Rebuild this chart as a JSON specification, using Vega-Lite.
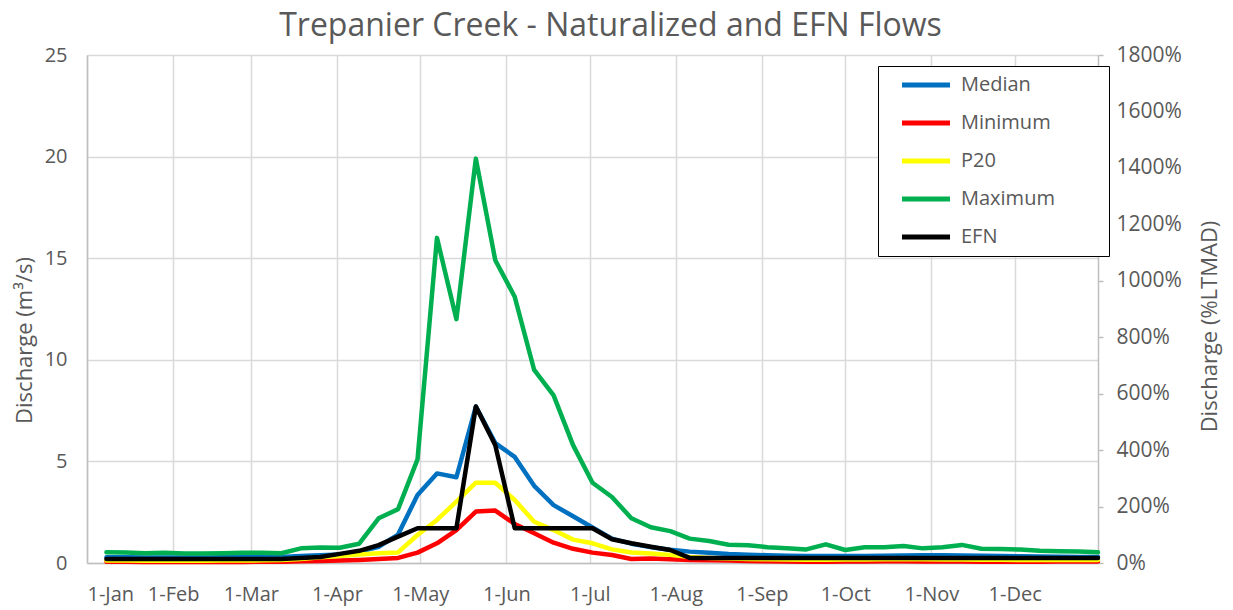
{
  "$schema": "https://vega.github.io/schema/vega-lite/v6.json",
  "width": 1011,
  "height": 508,
  "autosize": {"type": "none"},
  "padding": {"left": 87, "top": 55, "right": 135, "bottom": 47},
  "background": "white",
  "config": {"font": "Open Sans", "view": {"stroke": null}},
  "title": {"text": "Trepanier Creek - Naturalized and EFN Flows", "fontSize": 32, "font": "Open Sans", "fontWeight": "normal", "color": "#595959", "anchor": "middle", "dx": 18, "offset": 1},
  "data": {"values": [
    {"date": "2021-01-08", "Median": 0.28, "Minimum": 0.06, "P20": 0.12, "Maximum": 0.53, "EFN": 0.2},
    {"date": "2021-01-15", "Median": 0.28, "Minimum": 0.06, "P20": 0.12, "Maximum": 0.52, "EFN": 0.2},
    {"date": "2021-01-22", "Median": 0.27, "Minimum": 0.05, "P20": 0.11, "Maximum": 0.48, "EFN": 0.2},
    {"date": "2021-01-29", "Median": 0.27, "Minimum": 0.05, "P20": 0.11, "Maximum": 0.5, "EFN": 0.2},
    {"date": "2021-02-05", "Median": 0.27, "Minimum": 0.05, "P20": 0.11, "Maximum": 0.47, "EFN": 0.2},
    {"date": "2021-02-12", "Median": 0.27, "Minimum": 0.05, "P20": 0.11, "Maximum": 0.47, "EFN": 0.2},
    {"date": "2021-02-19", "Median": 0.28, "Minimum": 0.05, "P20": 0.12, "Maximum": 0.48, "EFN": 0.2},
    {"date": "2021-02-26", "Median": 0.28, "Minimum": 0.05, "P20": 0.12, "Maximum": 0.5, "EFN": 0.2},
    {"date": "2021-03-05", "Median": 0.29, "Minimum": 0.06, "P20": 0.13, "Maximum": 0.5, "EFN": 0.2},
    {"date": "2021-03-12", "Median": 0.3, "Minimum": 0.06, "P20": 0.15, "Maximum": 0.48, "EFN": 0.2},
    {"date": "2021-03-19", "Median": 0.35, "Minimum": 0.08, "P20": 0.2, "Maximum": 0.72, "EFN": 0.25},
    {"date": "2021-03-26", "Median": 0.38, "Minimum": 0.1, "P20": 0.28, "Maximum": 0.76, "EFN": 0.3},
    {"date": "2021-04-02", "Median": 0.42, "Minimum": 0.12, "P20": 0.35, "Maximum": 0.75, "EFN": 0.45},
    {"date": "2021-04-09", "Median": 0.55, "Minimum": 0.15, "P20": 0.42, "Maximum": 0.95, "EFN": 0.6},
    {"date": "2021-04-16", "Median": 0.8, "Minimum": 0.2, "P20": 0.48, "Maximum": 2.2, "EFN": 0.88},
    {"date": "2021-04-23", "Median": 1.4, "Minimum": 0.25, "P20": 0.52, "Maximum": 2.65, "EFN": 1.3},
    {"date": "2021-04-30", "Median": 3.35, "Minimum": 0.51, "P20": 1.38, "Maximum": 5.1, "EFN": 1.71},
    {"date": "2021-05-07", "Median": 4.41, "Minimum": 0.97, "P20": 2.12, "Maximum": 16, "EFN": 1.71},
    {"date": "2021-05-14", "Median": 4.22, "Minimum": 1.62, "P20": 3.02, "Maximum": 12, "EFN": 1.71},
    {"date": "2021-05-21", "Median": 7.7, "Minimum": 2.53, "P20": 3.95, "Maximum": 19.9, "EFN": 7.7},
    {"date": "2021-05-28", "Median": 5.9, "Minimum": 2.58, "P20": 3.95, "Maximum": 14.9, "EFN": 5.8},
    {"date": "2021-06-04", "Median": 5.22, "Minimum": 1.92, "P20": 3.1, "Maximum": 13.1, "EFN": 1.71},
    {"date": "2021-06-11", "Median": 3.8, "Minimum": 1.46, "P20": 2.03, "Maximum": 9.5, "EFN": 1.71},
    {"date": "2021-06-18", "Median": 2.85, "Minimum": 1.0, "P20": 1.62, "Maximum": 8.25, "EFN": 1.71},
    {"date": "2021-06-25", "Median": 2.3, "Minimum": 0.7, "P20": 1.15, "Maximum": 5.8, "EFN": 1.71},
    {"date": "2021-07-02", "Median": 1.75, "Minimum": 0.51, "P20": 0.97, "Maximum": 3.95, "EFN": 1.71},
    {"date": "2021-07-09", "Median": 1.2, "Minimum": 0.39, "P20": 0.67, "Maximum": 3.25, "EFN": 1.17},
    {"date": "2021-07-16", "Median": 0.95, "Minimum": 0.2, "P20": 0.52, "Maximum": 2.2, "EFN": 0.97},
    {"date": "2021-07-23", "Median": 0.78, "Minimum": 0.22, "P20": 0.47, "Maximum": 1.76, "EFN": 0.8},
    {"date": "2021-07-30", "Median": 0.65, "Minimum": 0.18, "P20": 0.4, "Maximum": 1.57, "EFN": 0.64},
    {"date": "2021-08-06", "Median": 0.56, "Minimum": 0.15, "P20": 0.3, "Maximum": 1.2, "EFN": 0.25},
    {"date": "2021-08-13", "Median": 0.5, "Minimum": 0.13, "P20": 0.25, "Maximum": 1.08, "EFN": 0.25},
    {"date": "2021-08-20", "Median": 0.44, "Minimum": 0.12, "P20": 0.22, "Maximum": 0.9, "EFN": 0.25},
    {"date": "2021-08-27", "Median": 0.41, "Minimum": 0.1, "P20": 0.2, "Maximum": 0.87, "EFN": 0.25},
    {"date": "2021-09-03", "Median": 0.38, "Minimum": 0.08, "P20": 0.18, "Maximum": 0.78, "EFN": 0.25},
    {"date": "2021-09-10", "Median": 0.36, "Minimum": 0.07, "P20": 0.17, "Maximum": 0.72, "EFN": 0.25},
    {"date": "2021-09-17", "Median": 0.35, "Minimum": 0.06, "P20": 0.16, "Maximum": 0.67, "EFN": 0.25},
    {"date": "2021-09-24", "Median": 0.34, "Minimum": 0.06, "P20": 0.16, "Maximum": 0.92, "EFN": 0.25},
    {"date": "2021-10-01", "Median": 0.34, "Minimum": 0.07, "P20": 0.17, "Maximum": 0.64, "EFN": 0.25},
    {"date": "2021-10-08", "Median": 0.35, "Minimum": 0.07, "P20": 0.17, "Maximum": 0.77, "EFN": 0.25},
    {"date": "2021-10-15", "Median": 0.36, "Minimum": 0.08, "P20": 0.18, "Maximum": 0.77, "EFN": 0.25},
    {"date": "2021-10-22", "Median": 0.37, "Minimum": 0.08, "P20": 0.18, "Maximum": 0.84, "EFN": 0.25},
    {"date": "2021-10-29", "Median": 0.38, "Minimum": 0.07, "P20": 0.18, "Maximum": 0.72, "EFN": 0.25},
    {"date": "2021-11-05", "Median": 0.38, "Minimum": 0.07, "P20": 0.17, "Maximum": 0.78, "EFN": 0.25},
    {"date": "2021-11-12", "Median": 0.37, "Minimum": 0.07, "P20": 0.17, "Maximum": 0.89, "EFN": 0.25},
    {"date": "2021-11-19", "Median": 0.36, "Minimum": 0.06, "P20": 0.16, "Maximum": 0.7, "EFN": 0.25},
    {"date": "2021-11-26", "Median": 0.35, "Minimum": 0.06, "P20": 0.16, "Maximum": 0.69, "EFN": 0.25},
    {"date": "2021-12-03", "Median": 0.33, "Minimum": 0.06, "P20": 0.15, "Maximum": 0.66, "EFN": 0.25},
    {"date": "2021-12-10", "Median": 0.32, "Minimum": 0.06, "P20": 0.15, "Maximum": 0.6, "EFN": 0.25},
    {"date": "2021-12-17", "Median": 0.31, "Minimum": 0.07, "P20": 0.15, "Maximum": 0.58, "EFN": 0.25},
    {"date": "2021-12-24", "Median": 0.3, "Minimum": 0.07, "P20": 0.15, "Maximum": 0.56, "EFN": 0.25},
    {"date": "2021-12-31", "Median": 0.3, "Minimum": 0.07, "P20": 0.15, "Maximum": 0.53, "EFN": 0.25}
  ]},
  "transform": [{"fold": ["Median", "Minimum", "P20", "Maximum", "EFN"], "as": ["series", "value"]}],
  "layer": [
    {
      "mark": {"type": "line", "strokeWidth": 4.5, "strokeJoin": "round", "strokeCap": "round"},
      "encoding": {
        "x": {
          "field": "date", "type": "temporal",
          "scale": {"type": "utc", "domain": [{"year": 2021, "month": 1, "date": 1, "utc": true}, {"year": 2021, "month": 12, "date": 31, "utc": true}]},
          "axis": {"title": null, "labelExpr": "utcFormat(datum.value, '%-d-%b')", "tickCount": {"interval": "month", "step": 1}, "labelOverlap": false, "grid": true, "gridColor": "#d9d9d9", "gridWidth": 1.5, "domainColor": "#bfbfbf", "domainWidth": 1.5, "ticks": false, "labelFontSize": 20, "labelColor": "#595959", "labelPadding": 21, "labelFlush": true}
        },
        "y": {
          "field": "value", "type": "quantitative",
          "scale": {"domain": [0, 25]},
          "axis": {"title": "Discharge (m³/s)", "values": [0, 5, 10, 15, 20, 25], "grid": true, "gridColor": "#d9d9d9", "gridWidth": 1.5, "ticks": false, "domainColor": "#bfbfbf", "domainWidth": 1.5, "labelFontSize": 20, "labelColor": "#595959", "labelPadding": 20, "titleFontSize": 22, "titleFontWeight": "normal", "titleColor": "#595959", "titlePadding": 8, "titleY": 285}
        },
        "color": {
          "field": "series", "type": "nominal",
          "scale": {"domain": ["Median", "Minimum", "P20", "Maximum", "EFN"], "range": ["#0070C0", "#FF0000", "#FFFF00", "#00B050", "#000000"]},
          "legend": {"title": null, "orient": "none", "legendX": 791, "legendY": 11, "fillColor": "white", "strokeColor": "black", "padding": 9, "symbolType": "M-24,0H24", "symbolSize": 4, "symbolStrokeWidth": 5, "labelFontSize": 20, "labelColor": "#595959", "labelOffset": 25, "rowPadding": 18, "symbolOffset": 29, "labelExpr": "datum.label + '\u2800\u2800\u2800'"}
        }
      }
    },
    {
      "mark": {"type": "rule", "opacity": 0},
      "encoding": {
        "y": {
          "field": "value", "type": "quantitative",
          "scale": {"domain": [0, 18], "clamp": true},
          "axis": {"orient": "right", "title": "Discharge (%LTMAD)", "values": [0, 2, 4, 6, 8, 10, 12, 14, 16, 18], "format": ".0%", "grid": false, "ticks": true, "tickSize": 5, "tickColor": "#bfbfbf", "tickWidth": 1.5, "domainColor": "#bfbfbf", "domainWidth": 1.5, "labelFontSize": 21, "labelColor": "#595959", "labelPadding": 13, "titleFontSize": 22, "titleFontWeight": "normal", "titleColor": "#595959", "titlePadding": 40, "titleAngle": 270, "titleY": 271}
        }
      }
    }
  ],
  "resolve": {"scale": {"y": "independent"}}
}
